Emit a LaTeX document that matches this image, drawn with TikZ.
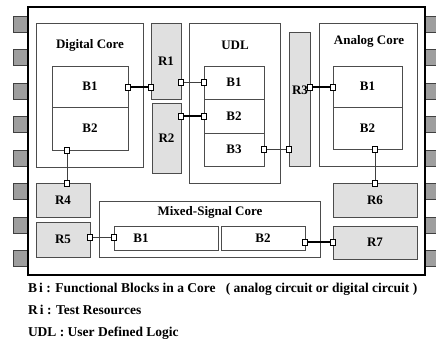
\documentclass[tikz,border=0pt]{standalone}
\usepackage{fontspec}
\setmainfont{Liberation Serif}
\begin{document}
\begin{tikzpicture}[x=1pt,y=-1pt,
 every node/.style={inner sep=0pt,outer sep=0pt},
 frame/.style={draw=black!70, line width=0.8pt, anchor=north west},
 res/.style={frame, fill=black!12},
 pad/.style={draw=black!75, fill=black!38, line width=0.6pt, anchor=north west, minimum width=15pt, minimum height=16pt},
 port/.style={draw=black, fill=white, line width=0.6pt, minimum width=5pt, minimum height=6pt},
 lbl/.style={font=\fontsize{13}{15}\selectfont\bfseries},
 leg/.style={font=\fontsize{13.5}{16}\selectfont\bfseries, anchor=base west},
 buslink/.style={line width=1.6pt},
 siglink/.style={line width=0.6pt, draw=black!75}]
\useasboundingbox (0,0) rectangle (436,339);
\clip (0,0) rectangle (436,339);
% pads
\foreach \i in {0,...,7} {
  \node[pad] (pl\i) at (13,{16+33.5*\i}) {};
  \node[pad] (pr\i) at (425,{16+33.5*\i}) {};
}
% chip
\node[draw, line width=1.8pt, anchor=north west, minimum width=397pt, minimum height=268pt] (chip) at (28,7) {};
% digital core
\node[frame, minimum width=107pt, minimum height=144pt] (dc) at (36,23) {};
\node[lbl] (dct) at (90,45) {Digital Core};
\node[frame, lbl, minimum width=76pt, minimum height=41pt] (dB1) at (52,66) {B1};
\node[frame, lbl, minimum width=76pt, minimum height=43pt] (dB2) at (52,107) {B2};
% R1 R2
\node[res, lbl, minimum width=30pt, minimum height=76pt] (R1) at (151,23) {R1};
\node[res, lbl, minimum width=29pt, minimum height=70pt] (R2) at (152,103) {R2};
% UDL
\node[frame, minimum width=91pt, minimum height=160pt] (udl) at (189,23) {};
\node[lbl] (udlt) at (235,45) {UDL};
\node[frame, lbl, minimum width=60pt, minimum height=33pt] (uB1) at (204,66) {B1};
\node[frame, lbl, minimum width=60pt, minimum height=34pt] (uB2) at (204,99) {B2};
\node[frame, lbl, minimum width=60pt, minimum height=33pt] (uB3) at (204,133) {B3};
% R3
\node[res, minimum width=21pt, minimum height=134pt] (R3) at (289,32) {};
\node[lbl] (R3t) at (300,90) {R3};
% analog core
\node[frame, minimum width=98pt, minimum height=143pt] (ac) at (319,23) {};
\node[lbl] (act) at (369,41) {Analog Core};
\node[frame, lbl, minimum width=69pt, minimum height=41pt] (aB1) at (333,66) {B1};
\node[frame, lbl, minimum width=69pt, minimum height=42pt] (aB2) at (333,107) {B2};
% R4 R5 R6 R7
\node[res, lbl, minimum width=54pt, minimum height=34pt] (R4) at (36,183) {R4};
\node[res, lbl, minimum width=54pt, minimum height=35pt] (R5) at (36,222) {R5};
\node[res, lbl, minimum width=84pt, minimum height=34pt] (R6) at (333,183) {R6};
\node[res, lbl, minimum width=84pt, minimum height=33pt] (R7) at (333,226) {R7};
% mixed-signal core
\node[frame, minimum width=221pt, minimum height=56pt] (mc) at (99,201) {};
\node[lbl] (mct) at (210,212) {Mixed-Signal Core};
\node[frame, minimum width=104pt, minimum height=24pt] (mB1) at (114,226) {};
\node[lbl] (mB1t) at (141,238) {B1};
\node[frame, lbl, minimum width=84pt, minimum height=24pt] (mB2) at (221,226) {B2};
% links
\coordinate (c1) at (128,87); \coordinate (c2) at (151,87);
\draw[buslink] (c1) -- (c2);
\coordinate (c3) at (181,82); \coordinate (c4) at (204,82);
\draw[siglink] (c3) -- (c4);
\coordinate (c5) at (181,116); \coordinate (c6) at (204,116);
\draw[buslink] (c5) -- (c6);
\coordinate (c7) at (264,149); \coordinate (c8) at (289,149);
\draw[siglink] (c7) -- (c8);
\coordinate (c9) at (310,87); \coordinate (c10) at (333,87);
\draw[buslink] (c9) -- (c10);
\coordinate (c11) at (67,150); \coordinate (c12) at (67,183);
\draw[siglink] (c11) -- (c12);
\coordinate (c13) at (375,149); \coordinate (c14) at (375,183);
\draw[siglink] (c13) -- (c14);
\coordinate (c15) at (90,237); \coordinate (c16) at (114,237);
\draw[siglink] (c15) -- (c16);
\coordinate (c17) at (305,242); \coordinate (c18) at (333,242);
\draw[buslink] (c17) -- (c18);
% ports
\foreach \c in {c1,c2,c3,c4,c5,c6,c7,c8,c9,c10,c11,c12,c13,c14,c15,c16,c17,c18}
  \node[port] at (\c) {};
% legend
\node[leg] (l1) at (28,292) {B\,i : Functional Blocks in a Core \ \ ( analog circuit or digital circuit )};
\node[leg] (l2) at (28,314) {R\,i : Test Resources};
\node[leg] (l3) at (28,336) {UDL : User Defined Logic};
\end{tikzpicture}
\end{document}
